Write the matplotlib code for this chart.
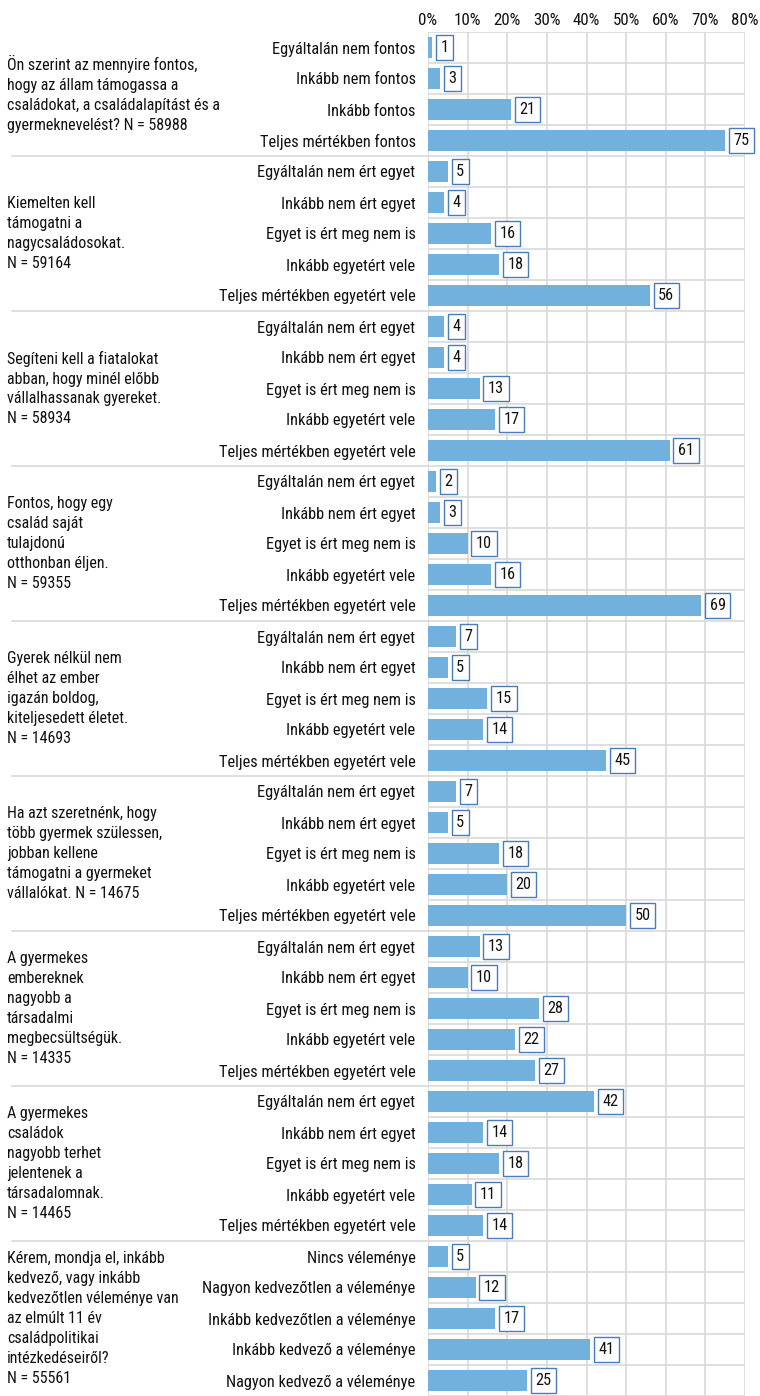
import numpy as np
import matplotlib
matplotlib.use('Agg')
import matplotlib.pyplot as plt
from matplotlib import font_manager
from matplotlib.transforms import blended_transform_factory

# pick a condensed face if there is one
names = {f.name for f in font_manager.fontManager.ttflist}
family = 'DejaVu Sans'
for cand in ['Roboto Condensed', 'Liberation Sans Narrow', 'Roboto']:
    if cand in names:
        family = cand
        break
plt.rcParams['font.family'] = [family, 'DejaVu Sans']

cats_fontos = ['Egyáltalán nem fontos', 'Inkább nem fontos', 'Inkább fontos', 'Teljes mértékben fontos']
cats_agree = ['Egyáltalán nem ért egyet', 'Inkább nem ért egyet', 'Egyet is ért meg nem is',
              'Inkább egyetért vele', 'Teljes mértékben egyetért vele']
cats_opinion = ['Nincs véleménye', 'Nagyon kedvezőtlen a véleménye', 'Inkább kedvezőtlen a véleménye',
                'Inkább kedvező a véleménye', 'Nagyon kedvező a véleménye']

questions = [
    'Ön szerint az mennyire fontos,\nhogy az állam támogassa a\ncsaládokat, a családalapítást és a\ngyermeknevelést? N = 58988',
    'Kiemelten kell\ntámogatni a\nnagycsaládosokat.\nN = 59164',
    'Segíteni kell a fiatalokat\nabban, hogy minél előbb\nvállalhassanak gyereket.\nN = 58934',
    'Fontos, hogy egy\ncsalád saját\ntulajdonú\notthonban éljen.\nN = 59355',
    'Gyerek nélkül nem\nélhet az ember\nigazán boldog,\nkiteljesedett életet.\nN = 14693',
    'Ha azt szeretnénk, hogy\ntöbb gyermek szülessen,\njobban kellene\ntámogatni a gyermeket\nvállalókat. N = 14675',
    'A gyermekes\nembereknek\nnagyobb a\ntársadalmi\nmegbecsültségük.\nN = 14335',
    'A gyermekes\ncsaládok\nnagyobb terhet\njelentenek a\ntársadalomnak.\nN = 14465',
    'Kérem, mondja el, inkább\nkedvező, vagy inkább\nkedvezőtlen véleménye van\naz elmúlt 11 év\ncsaládpolitikai\nintézkedéseiről?\nN = 55561',
]

q1 = [1, 3, 21, 75]
q2 = [5, 4, 16, 18, 56]
q3 = [4, 4, 13, 17, 61]
q4 = [2, 3, 10, 16, 69]
q5 = [7, 5, 15, 14, 45]
q6 = [7, 5, 18, 20, 50]
q7 = [13, 10, 28, 22, 27]
q8 = [42, 14, 18, 11, 14]
q9 = [5, 12, 17, 41, 25]

groups = [(cats_fontos, q1)] + [(cats_agree, q) for q in [q2, q3, q4, q5, q6, q7, q8]] + [(cats_opinion, q9)]

labels, values, group_start = [], [], []
for cats, vals in groups:
    group_start.append(len(labels))
    labels += cats
    values += vals
n = len(labels)
y = np.arange(n)

bar_color = '#72b0dd'
box_edge = '#4a7cba'
grid_color = '#d9d9d9'
txt = '#111111'

fig = plt.figure(figsize=(7.6, 13.96), dpi=100)
ax = fig.add_axes([428 / 760, 0, (745 - 428) / 760, 1 - 32 / 1396])

ax.barh(y, values, height=0.7, color=bar_color, zorder=3)
ax.set_xlim(0, 80)
ax.set_ylim(n - 0.5, -0.5)

for yi, v in zip(y, values):
    ax.annotate(str(v), (v, yi), xytext=(6, 0), textcoords='offset points',
                ha='left', va='center', fontsize=11.7, color=txt, zorder=5,
                bbox=dict(boxstyle='square,pad=0.28', fc='white', ec=box_edge, lw=1))

ax.set_xticks(np.arange(0, 81, 10))
ax.set_xticklabels([f'{t}%' for t in range(0, 81, 10)], fontsize=12.2, color=txt)
ax.xaxis.tick_top()
ax.tick_params(axis='x', length=0, pad=3)
ax.set_yticks(y)
ax.set_yticklabels(labels, fontsize=11.8, color=txt)
ax.tick_params(axis='y', length=0, pad=9)

for xv in range(0, 81, 10):
    ax.axvline(xv, color=grid_color, lw=1.2, zorder=1)
for b in np.arange(n + 1) - 0.5:
    ax.axhline(b, color=grid_color, lw=1.2, zorder=1)
for s in ax.spines.values():
    s.set_visible(False)

# group separators reach out into the question column
tr = blended_transform_factory(fig.transFigure, ax.transData)
for gs in group_start[1:]:
    ax.plot([12 / 760, 428 / 760], [gs - 0.5, gs - 0.5], transform=tr,
            color=grid_color, lw=1.2, clip_on=False)

ends = group_start[1:] + [n]
for q, s, e in zip(questions, group_start, ends):
    mid = (s + e - 1) / 2
    ax.text(7 / 760, mid, q, transform=tr, ha='left', va='center',
            fontsize=11.5, color=txt, linespacing=1.41)

fig.savefig('out.png', dpi=100)
